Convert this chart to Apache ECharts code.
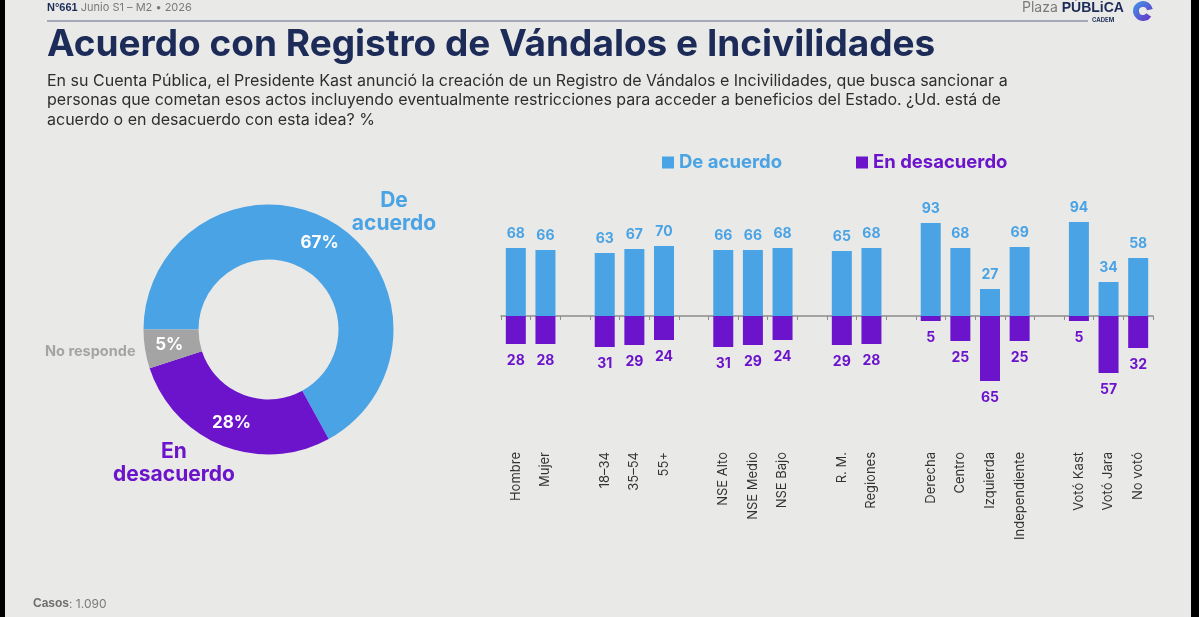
<!DOCTYPE html>
<html>
<head>
<meta charset="utf-8">
<title>Acuerdo con Registro de Vándalos e Incivilidades</title>
<script src="https://cdn.jsdelivr.net/npm/echarts@6.0.0/dist/echarts.min.js"></script>
<style>
  html, body { margin: 0; padding: 0; background: #000; }
  #chart { width: 1199px; height: 617px; }
</style>
</head>
<body>
<div id="chart"></div>
<script>
// datos
const categories = ['Hombre', 'Mujer', '', '18–34', '35–54', '55+', '', 'NSE Alto', 'NSE Medio', 'NSE Bajo', '',
  'R. M.', 'Regiones', '', 'Derecha', 'Centro', 'Izquierda', 'Independiente', '', 'Votó Kast', 'Votó Jara', 'No votó'];
const acuerdo = [68, 66, null, 63, 67, 70, null, 66, 66, 68, null, 65, 68, null, 93, 68, 27, 69, null, 94, 34, 58];
const desacuerdo = [28, 28, null, 31, 29, 24, null, 31, 29, 24, null, 29, 28, null, 5, 25, 65, 25, null, 5, 57, 32];
const donutNames = ['De acuerdo', 'En desacuerdo', 'No responde'];
const donutValues = [67, 28, 5];

const BLUE = '#4aa3e4';
const PURPLE = '#6b14cb';
const GRAY = '#a4a4a4';
const NAVY = '#1c2b57';
const FONT = 'Inter, "Open Sans", sans-serif';

const chart = echarts.init(document.getElementById('chart'));

let option = {
  backgroundColor: '#e9e9e8',
  textStyle: { fontFamily: FONT },
  animation: false,
  legend: {
    left: 657,
    top: 148,
    itemWidth: 12,
    itemHeight: 12,
    itemGap: 74,
    icon: 'rect',
    selectedMode: false,
    textStyle: { fontSize: 18.5, fontWeight: 'bold' },
    data: [
      { name: 'De acuerdo', textStyle: { color: BLUE } },
      { name: 'En desacuerdo', textStyle: { color: PURPLE } }
    ]
  },
  grid: {
    left: 501,
    width: 652,
    top: 216,
    height: 200,
    outerBoundsMode: 'none'
  },
  xAxis: {
    type: 'category',
    data: categories,
    axisLine: { onZero: true, lineStyle: { color: '#8c8c8c', width: 1.5 } },
    axisTick: { show: true, length: 4, lineStyle: { color: '#8c8c8c' } },
    axisLabel: {
      rotate: 90,
      margin: 36,
      interval: 0,
      color: '#333',
      fontSize: 13
    },
    splitLine: { show: false }
  },
  yAxis: {
    type: 'value',
    min: -100,
    max: 100,
    show: false
  },
  series: [
    {
      name: 'De acuerdo',
      type: 'bar',
      stack: 'total',
      barWidth: 20,
      data: acuerdo,
      itemStyle: { color: BLUE },
      label: {
        show: true,
        position: 'top',
        distance: 7,
        color: BLUE,
        fontSize: 14,
        fontWeight: 'bold'
      }
    },
    {
      name: 'En desacuerdo',
      type: 'bar',
      stack: 'total',
      barWidth: 20,
      data: desacuerdo.map(v => v == null ? null : -v),
      itemStyle: { color: PURPLE },
      label: {
        show: true,
        position: 'bottom',
        distance: 10,
        color: PURPLE,
        fontSize: 14,
        fontWeight: 'bold',
        formatter: p => Math.abs(p.value)
      }
    },
    {
      name: 'donut',
      type: 'pie',
      center: [268.5, 329.5],
      radius: [70, 125],
      startAngle: 180,
      clockwise: true,
      silent: true,
      label: {
        show: true,
        position: 'inside',
        color: '#fff',
        fontSize: 17,
        fontWeight: 'bold',
        formatter: '{c}%'
      },
      labelLine: { show: false },
      data: donutNames.map((n, i) => ({
        name: n,
        value: donutValues[i],
        itemStyle: { color: [BLUE, PURPLE, GRAY][i] }
      }))
    }
  ],
  graphic: [
    // cabecera
    {
      type: 'text', left: 47, top: 2,
      style: {
        text: '{b|N°661} Junio S1 – M2 • 2026',
        font: '11px ' + FONT,
        fill: '#7a7a7a',
        rich: { b: { fontWeight: 'bold', fill: NAVY, fontSize: 11 } }
      }
    },
    {
      type: 'line',
      shape: { x1: 47, y1: 21, x2: 1088, y2: 21 },
      style: { stroke: '#8e92a8', lineWidth: 1.5 }
    },
    {
      type: 'text', left: 1022, top: 1,
      style: {
        text: 'Plaza {b|PÚBLiCA}',
        font: '14px ' + FONT,
        fill: '#7a7a7a',
        rich: { b: { fontWeight: 'bold', fill: NAVY, fontSize: 14 } }
      }
    },
    {
      type: 'text', left: 1092, top: 17,
      style: { text: 'CADEM', font: 'bold 6px ' + FONT, fill: NAVY }
    },
    {
      type: 'sector',
      shape: { cx: 1143, cy: 11, r0: 4, r: 10, startAngle: 0.6, endAngle: Math.PI * 2 - 0.2 },
      style: {
        fill: new echarts.graphic.LinearGradient(0, 0, 1, 1, [
          { offset: 0, color: '#3f9be8' },
          { offset: 1, color: '#6a2bc4' }
        ])
      }
    },
    // título
    {
      type: 'text', left: 47, top: 26,
      style: { text: 'Acuerdo con Registro de Vándalos e Incivilidades', font: 'bold 37px ' + FONT, fill: NAVY }
    },
    {
      type: 'text', left: 47, top: 71,
      style: {
        text: 'En su Cuenta Pública, el Presidente Kast anunció la creación de un Registro de Vándalos e Incivilidades, que busca sancionar a\n' +
          'personas que cometan esos actos incluyendo eventualmente restricciones para acceder a beneficios del Estado. ¿Ud. está de\n' +
          'acuerdo o en desacuerdo con esta idea? %',
        font: '16px ' + FONT,
        lineHeight: 19.5,
        fill: '#2e2e2e'
      }
    },
    // etiquetas del donut
    {
      type: 'text', x: 394, y: 212,
      style: { text: 'De\nacuerdo', font: 'bold 21px ' + FONT, lineHeight: 23, fill: BLUE, align: 'center', verticalAlign: 'middle' }
    },
    {
      type: 'text', x: 174, y: 463,
      style: { text: 'En\ndesacuerdo', font: 'bold 21px ' + FONT, lineHeight: 23, fill: PURPLE, align: 'center', verticalAlign: 'middle' }
    },
    {
      type: 'text', x: 45, y: 352,
      style: { text: 'No responde', font: 'bold 14.5px ' + FONT, fill: GRAY, align: 'left', verticalAlign: 'middle' }
    },
    // pie de página
    {
      type: 'text', left: 33, top: 598,
      style: {
        text: '{b|Casos}: 1.090',
        font: '12px ' + FONT,
        fill: '#7a7a7a',
        rich: { b: { fontWeight: 'bold', fill: '#6e6e6e', fontSize: 12 } }
      }
    },
    // bordes negros
    { type: 'rect', z: 100, shape: { x: 0, y: 0, width: 5, height: 617 }, style: { fill: '#000' } },
    { type: 'rect', z: 100, shape: { x: 1191, y: 0, width: 8, height: 617 }, style: { fill: '#000' } }
  ]
};

chart.setOption(option);
</script>
</body>
</html>
